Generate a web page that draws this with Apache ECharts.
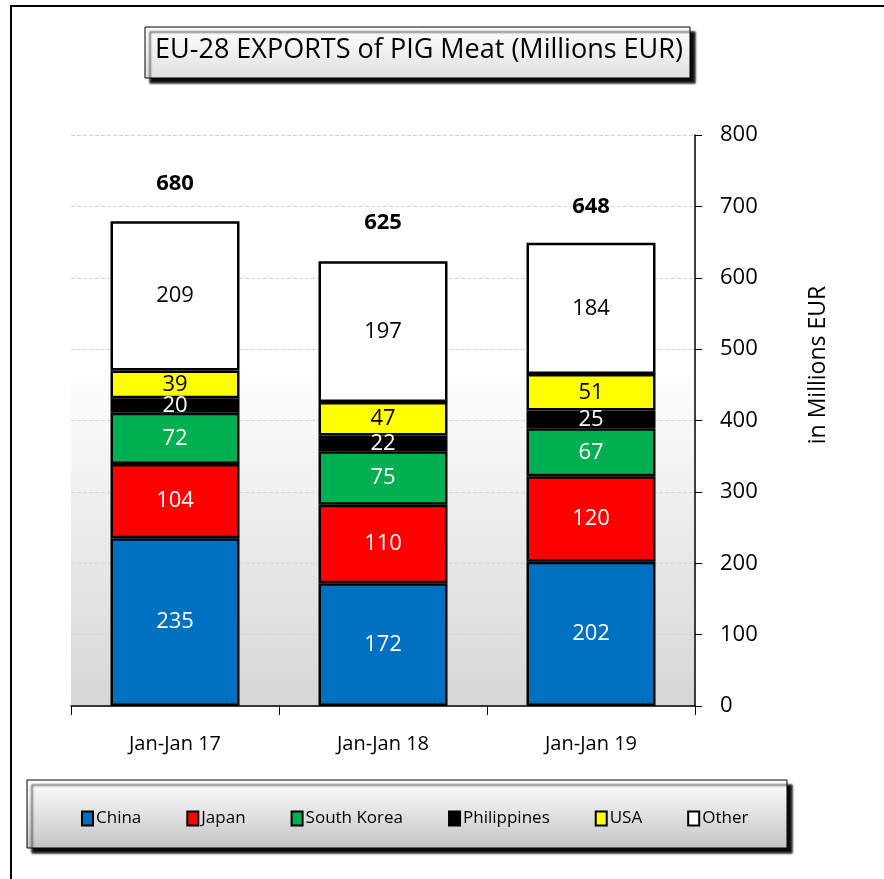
<!DOCTYPE html>
<html>
<head>
<meta charset="utf-8">
<script src="https://cdn.jsdelivr.net/npm/echarts@6/dist/echarts.min.js"></script>
<style>
  html, body { margin: 0; padding: 0; background: #fff; }
  #chart { width: 884px; height: 879px; }
</style>
</head>
<body>
<div id="chart"></div>
<script>
// periods on the x axis
const categories = ['Jan-Jan 17', 'Jan-Jan 18', 'Jan-Jan 19']
// million EUR per destination
const china = [235, 172, 202]
const japan = [104, 110, 120]
const southKorea = [72, 75, 67]
const philippines = [20, 22, 25]
const usa = [39, 47, 51]
const other = [209, 197, 184]
// totals as printed above the bars
const totals = [680, 625, 648]
const yTicks = [0, 100, 200, 300, 400, 500, 600, 700, 800]

const FONT = 'Open Sans'

const chartObj = echarts.init(document.getElementById('chart'))

function barSeries(name, data, color, textColor) {
  return {
    name: name,
    type: 'bar',
    stack: 'total',
    barWidth: 129,
    data: data,
    itemStyle: { color: color, borderColor: '#000', borderWidth: 2.5 },
    label: {
      show: true,
      position: 'inside',
      color: textColor,
      fontFamily: FONT,
      fontSize: 22
    },
    emphasis: { disabled: true }
  }
}

const chartOption = {
  animation: false,
  textStyle: { fontFamily: FONT },
  title: {
    text: 'EU-28 EXPORTS of PIG Meat (Millions EUR)',
    left: 414,
    top: 32,
    textAlign: 'center',
    textStyle: { fontFamily: FONT, fontSize: 27, fontWeight: 'normal', color: '#000' }
  },
  graphic: [
    // outer frame (only left / top edges are in view)
    {
      type: 'rect', z: -10, silent: true,
      shape: { x: 11, y: 6, width: 950, height: 950 },
      style: { fill: '#fff', stroke: '#000', lineWidth: 2 }
    },
    // title box
    {
      type: 'rect', z: -5, silent: true,
      shape: { x: 145, y: 27, width: 545, height: 51 },
      style: {
        fill: new echarts.graphic.LinearGradient(0, 0, 0, 1, [
          { offset: 0, color: '#ffffff' },
          { offset: 1, color: '#e0e0e0' }
        ]),
        stroke: '#000', lineWidth: 1,
        shadowColor: 'rgba(0,0,0,0.95)', shadowOffsetX: 5, shadowOffsetY: 5, shadowBlur: 2
      }
    },
    // legend box
    {
      type: 'rect', z: -5, silent: true,
      shape: { x: 27, y: 780, width: 760, height: 68 },
      style: {
        fill: new echarts.graphic.LinearGradient(0, 0, 0, 1, [
          { offset: 0, color: '#ffffff' },
          { offset: 1, color: '#c4c4c4' }
        ]),
        stroke: '#000', lineWidth: 1,
        shadowColor: 'rgba(0,0,0,0.95)', shadowOffsetX: 5, shadowOffsetY: 5, shadowBlur: 2
      }
    },
    // y axis name
    {
      type: 'text', silent: true,
      x: 818, y: 365, rotation: Math.PI / 2,
      style: {
        text: 'in Millions EUR',
        fontFamily: FONT, fontSize: 23, fill: '#000',
        align: 'center', verticalAlign: 'middle'
      }
    }
  ],
  legend: {
    left: 76,
    top: 805,
    itemWidth: 11,
    itemHeight: 14,
    itemGap: 45,
    icon: 'rect',
    selectedMode: false,
    data: ['China', 'Japan', 'South Korea', 'Philippines', 'USA', 'Other'],
    itemStyle: { borderColor: '#000', borderWidth: 2 },
    textStyle: { fontFamily: FONT, fontSize: 17, color: '#000', padding: [0, 0, 0, -2] }
  },
  grid: {
    left: 71,
    right: 189,
    top: 135,
    bottom: 173,
    show: true,
    borderWidth: 0,
    backgroundColor: new echarts.graphic.LinearGradient(0, 0, 0, 1, [
      { offset: 0, color: '#ffffff' },
      { offset: 0.4, color: '#ffffff' },
      { offset: 1, color: '#d6d6d6' }
    ])
  },
  xAxis: {
    type: 'category',
    data: categories,
    axisLine: { lineStyle: { color: '#000', width: 1.5 } },
    axisTick: { show: true, length: 9, lineStyle: { color: '#000' } },
    axisLabel: { color: '#000', fontFamily: FONT, fontSize: 20, margin: 28 }
  },
  yAxis: {
    type: 'value',
    position: 'right',
    min: yTicks[0],
    max: yTicks[yTicks.length - 1],
    interval: 100,
    axisLine: { show: true, lineStyle: { color: '#000', width: 1.5 } },
    axisTick: { show: true, length: 7, lineStyle: { color: '#000' } },
    axisLabel: { color: '#000', fontFamily: FONT, fontSize: 22, margin: 25 },
    splitLine: { lineStyle: { color: '#d4d4d4', type: 'dashed' } }
  },
  series: [
    barSeries('China', china, '#0070c0', '#fff'),
    barSeries('Japan', japan, '#ff0000', '#fff'),
    barSeries('South Korea', southKorea, '#00b050', '#fff'),
    barSeries('Philippines', philippines, '#000000', '#fff'),
    barSeries('USA', usa, '#ffff00', '#000'),
    barSeries('Other', other, '#ffffff', '#000'),
    {
      name: 'total',
      type: 'scatter',
      data: totals,
      symbolSize: 0,
      silent: true,
      itemStyle: { opacity: 1 },
      label: {
        show: true,
        position: 'top',
        distance: 26,
        color: '#000',
        fontFamily: FONT,
        fontSize: 22,
        fontWeight: 'bold'
      }
    }
  ]
}

chartObj.setOption(chartOption, true)
</script>
</body>
</html>
